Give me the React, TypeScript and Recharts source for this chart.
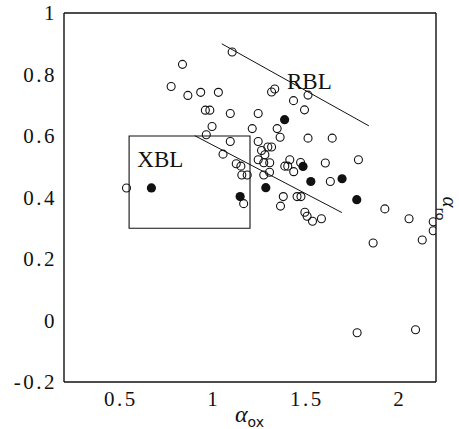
import React from "react";
import {
  ScatterChart,
  Scatter,
  XAxis,
  YAxis,
  Label,
  ReferenceArea,
  ReferenceLine,
  ReferenceDot,
} from "recharts";

// open circles: alpha_ox vs alpha_ro
const OPEN_AOX = [
  0.536, 0.776, 0.837, 0.866, 0.935, 0.96, 0.984, 0.965, 0.996, 1.03, 1.055, 1.094, 1.094,
  1.104, 1.126, 1.151, 1.156, 1.185, 1.166, 1.212, 1.244, 1.244, 1.346, 1.362, 1.316, 1.333,
  1.434, 1.493, 1.512, 1.512, 1.642, 1.262, 1.296, 1.316, 1.244, 1.28, 1.274, 1.306, 1.274,
  1.305, 1.387, 1.403, 1.414, 1.435, 1.472, 1.605, 1.783, 1.632, 1.379, 1.453, 1.474, 1.364,
  1.495, 1.507, 1.536, 1.584, 1.925, 2.055, 1.862, 2.126, 2.185, 2.185, 1.776, 2.09,
];
const OPEN_ARO = [
  0.431, 0.761, 0.833, 0.732, 0.742, 0.684, 0.684, 0.604, 0.631, 0.742, 0.541, 0.673, 0.582,
  0.873, 0.51, 0.502, 0.473, 0.473, 0.38, 0.624, 0.673, 0.582, 0.624, 0.596, 0.743, 0.753,
  0.715, 0.685, 0.733, 0.593, 0.593, 0.553, 0.564, 0.564, 0.523, 0.539, 0.513, 0.513, 0.473,
  0.482, 0.502, 0.502, 0.523, 0.484, 0.514, 0.512, 0.523, 0.452, 0.403, 0.403, 0.403, 0.372,
  0.352, 0.339, 0.323, 0.331, 0.363, 0.331, 0.252, 0.262, 0.321, 0.292, -0.04, -0.03,
];

// filled circles
const FILLED_AOX = [0.67, 1.147, 1.285, 1.386, 1.485, 1.527, 1.695, 1.774];
const FILLED_ARO = [0.431, 0.403, 0.432, 0.653, 0.501, 0.452, 0.461, 0.393];

// XBL box and the two dividing lines
const XBL_BOX = { x1: 0.55, x2: 1.2, y1: 0.3, y2: 0.6 };
const RBL_LINE = [
  { x: 1.048, y: 0.9 },
  { x: 1.839, y: 0.633 },
];
const XBL_LINE = [
  { x: 0.903, y: 0.601 },
  { x: 1.694, y: 0.351 },
];
const REGION_LABELS = [
  { name: "XBL", x: 0.718, y: 0.523 },
  { name: "RBL", x: 1.519, y: 0.777 },
];

const X_DOMAIN = [0.2, 2.2];
const Y_DOMAIN = [-0.2, 1];
const X_TICKS = [
  0.3, 0.4, 0.5, 0.6, 0.7, 0.8, 0.9, 1, 1.1, 1.2, 1.3, 1.4, 1.5, 1.6, 1.7, 1.8, 1.9, 2, 2.1,
];
const X_LABELS = [0.5, 1, 1.5, 2];
const Y_TICKS = [
  -0.15, -0.1, -0.05, 0, 0.05, 0.1, 0.15, 0.2, 0.25, 0.3, 0.35, 0.4, 0.45, 0.5, 0.55, 0.6,
  0.65, 0.7, 0.75, 0.8, 0.85, 0.9, 0.95,
];
const Y_LABELS = [-0.2, 0, 0.2, 0.4, 0.6, 0.8, 1];

const openData = OPEN_AOX.map((x, i) => ({ aox: x, aro: OPEN_ARO[i] }));
const filledData = FILLED_AOX.map((x, i) => ({ aox: x, aro: FILLED_ARO[i] }));

const SERIF = "'Liberation Serif', 'DejaVu Serif', serif";
const INK = "#111";

const BottomLabel = (props: any) => (
  <text x={Number(props.x) + 1} y={Number(props.y) + 24} textAnchor="middle" fontSize={21} letterSpacing={2.5} fontFamily={SERIF} fill={INK}>
    {String(props.payload.value)}
  </text>
);
const LeftLabel = (props: any) => (
  <text x={Number(props.x) - 7} y={Number(props.y)} textAnchor="end" dominantBaseline="central" fontSize={21} letterSpacing={2.5} fontFamily={SERIF} fill={INK}>
    {String(props.payload.value)}
  </text>
);

const AoxLabel = (props: any) => {
  const { x, y, width } = props.viewBox;
  return (
    <text x={x + width / 2 - 15} y={y + 40} fill={INK}>
      <tspan fontFamily={SERIF} fontStyle="italic" fontSize={24}>α</tspan>
      <tspan fontFamily="'DejaVu Sans', sans-serif" fontSize={14} dy={5}>ox</tspan>
    </text>
  );
};

const AroLabel = (props: any) => {
  const { x, y, height } = props.viewBox;
  const px = x + 7;
  const py = y + height / 2 - 1;
  return (
    <text x={px} y={py} transform={`rotate(90, ${px}, ${py})`} fill={INK}>
      <tspan fontFamily={SERIF} fontStyle="italic" fontSize={21}>α</tspan>
      <tspan fontFamily="'DejaVu Sans', sans-serif" fontSize={13} dy={7}>ro</tspan>
    </text>
  );
};

const OpenDot = (p: any) => (
  <circle cx={p.cx} cy={p.cy} r={4} fill="none" stroke={INK} strokeWidth={1.1} />
);
const FilledDot = (p: any) => <circle cx={p.cx} cy={p.cy} r={4.6} fill={INK} />;

const axisLine = { stroke: INK, strokeWidth: 1.4 };
const tickLine = { stroke: INK, strokeWidth: 1.2 };

// inward tick marks: mirrored axes that draw only tick lines
const tickAxisX = (id: string, orientation: "top" | "bottom", ticks: number[], size: number) => (
  <XAxis
    key={id}
    xAxisId={id}
    orientation={orientation}
    mirror
    type="number"
    domain={X_DOMAIN}
    ticks={ticks}
    interval={0}
    tickSize={size}
    tick={false}
    tickLine={tickLine}
    axisLine={false}
    height={0}
    allowDataOverflow
  />
);
const tickAxisY = (id: string, orientation: "left" | "right", ticks: number[], size: number) => (
  <YAxis
    key={id}
    yAxisId={id}
    orientation={orientation}
    mirror
    type="number"
    domain={Y_DOMAIN}
    ticks={ticks}
    interval={0}
    tickSize={size}
    tick={false}
    tickLine={tickLine}
    axisLine={false}
    width={0}
    allowDataOverflow
  />
);

export default function App() {
  return (
    <div style={{ position: "fixed", top: 0, left: 0, background: "#fff" }}>
      <ScatterChart width={459} height={429} margin={{ top: 0, right: 0, bottom: 0, left: 0 }}>
        <XAxis
          xAxisId={0}
          type="number"
          dataKey="aox"
          domain={X_DOMAIN}
          ticks={X_LABELS}
          interval={0}
          tickSize={0}
          tickMargin={0}
          tickLine={false}
          axisLine={axisLine}
          tick={BottomLabel}
          height={47}
          allowDataOverflow
        >
          <Label content={AoxLabel} />
        </XAxis>
        <XAxis
          xAxisId="top"
          orientation="top"
          type="number"
          domain={X_DOMAIN}
          tick={false}
          tickLine={false}
          axisLine={axisLine}
          height={13}
          allowDataOverflow
        />
        <YAxis
          yAxisId={0}
          type="number"
          dataKey="aro"
          domain={Y_DOMAIN}
          ticks={Y_LABELS}
          interval={0}
          tickSize={0}
          tickMargin={0}
          tickLine={false}
          axisLine={axisLine}
          tick={LeftLabel}
          width={64}
          allowDataOverflow
        />
        <YAxis
          yAxisId="right"
          orientation="right"
          type="number"
          domain={Y_DOMAIN}
          tick={false}
          tickLine={false}
          axisLine={axisLine}
          width={23}
          allowDataOverflow
        >
          <Label content={AroLabel} />
        </YAxis>
        {tickAxisX("bMin", "bottom", X_TICKS, 7.5)}
        {tickAxisX("bMaj", "bottom", X_LABELS, 15)}
        {tickAxisX("tMin", "top", X_TICKS, 7.5)}
        {tickAxisX("tMaj", "top", X_LABELS, 15)}
        {tickAxisY("lMin", "left", Y_TICKS, 7.5)}
        {tickAxisY("lMaj", "left", Y_LABELS, 15)}
        {tickAxisY("rMin", "right", Y_TICKS, 7.5)}
        {tickAxisY("rMaj", "right", Y_LABELS, 15)}
        <ReferenceArea
          x1={XBL_BOX.x1}
          x2={XBL_BOX.x2}
          y1={XBL_BOX.y1}
          y2={XBL_BOX.y2}
          fill="none"
          fillOpacity={0}
          stroke={INK}
          strokeWidth={1.1}
        />
        <ReferenceLine segment={RBL_LINE} stroke={INK} strokeWidth={1} />
        <ReferenceLine segment={XBL_LINE} stroke={INK} strokeWidth={1} />
        {REGION_LABELS.map((r) => (
          <ReferenceDot
            key={r.name}
            x={r.x}
            y={r.y}
            r={0}
            shape={(p: any) => (
              <text
                x={p.cx}
                y={p.cy}
                textAnchor="middle"
                dominantBaseline="central"
                fontFamily={SERIF}
                fontSize={23}
                fill={INK}
              >
                {r.name}
              </text>
            )}
          />
        ))}
        <Scatter data={openData} shape={OpenDot} isAnimationActive={false} />
        <Scatter data={filledData} shape={FilledDot} isAnimationActive={false} />
      </ScatterChart>
    </div>
  );
}
